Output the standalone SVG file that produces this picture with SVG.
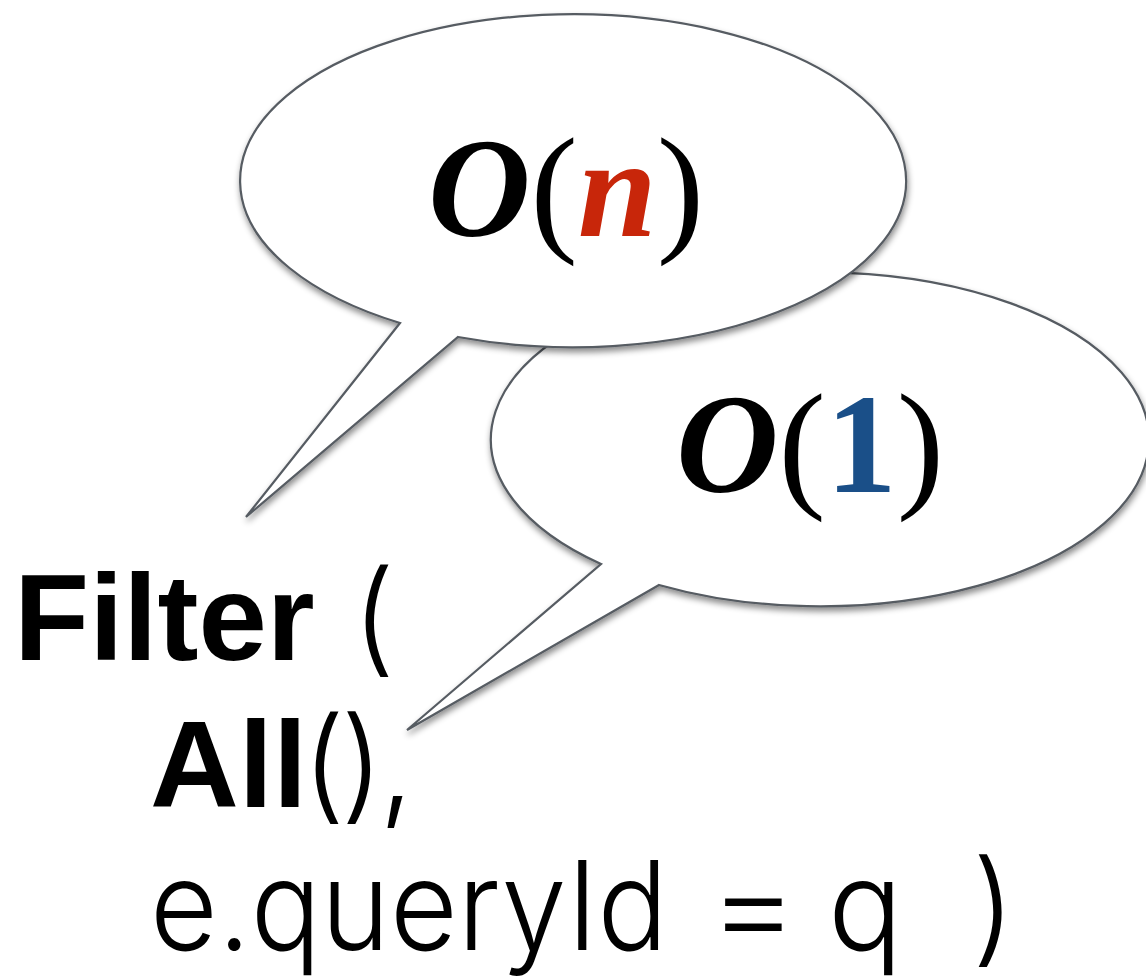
<svg xmlns="http://www.w3.org/2000/svg" width="1146" height="978" viewBox="0 0 1146 978">
<style>
.bubble{fill:#ffffff;stroke:#565b62;stroke-width:2.2;stroke-linejoin:miter;filter:url(#shadow)}
.math{font-family:"Liberation Serif","Times New Roman",serif;font-size:142px;fill:#000}
.bi{font-weight:bold;font-style:italic}
.code{font-family:"Liberation Sans",Arial,sans-serif;font-size:123px;fill:#000}
.bold{font-weight:bold}
.light{font-family:Inter,"Roboto","Liberation Sans",sans-serif;font-weight:300;font-size:124px;fill:#000}
</style>
<defs>
<filter id="shadow" x="-10%" y="-10%" width="120%" height="130%">
<feDropShadow dx="1" dy="4" stdDeviation="3" flood-color="#000" flood-opacity="0.45"/>
</filter>
</defs>
<rect width="1146" height="978" fill="#ffffff"/>
<g id="bubble-o1">
<path class="bubble" d="M 659 585 A 329 167 0 1 0 601 564 L 407 730 Z"/>
<text class="math" x="676" y="492"><tspan class="bi">O</tspan>(<tspan font-weight="bold" fill="#1a4f88">1</tspan>)</text>
</g>
<g id="bubble-on">
<path class="bubble" d="M 458 337 A 333 166.5 0 1 0 400 323 L 246 517 Z"/>
<text class="math" x="428" y="236"><tspan class="bi">O</tspan>(<tspan class="bi" fill="#c8260a">n</tspan>)</text>
</g>
<g id="connectors"></g>
<g id="code">
<text class="code bold" x="14" y="660">Filter</text>
<text class="light" x="352" y="660">(</text>
<text class="code bold" x="150" y="807">All</text>
<text class="light" x="302" y="807" textLength="112" lengthAdjust="spacing">(),</text>
<text class="light" x="150" y="950" textLength="518" lengthAdjust="spacingAndGlyphs">e.queryId</text>
<text class="light" font-weight="400" transform="translate(708,950) scale(1.12,1)">=</text>
<text class="light" x="828" y="950">q</text>
<text class="light" x="972" y="950">)</text>
</g>
</svg>
